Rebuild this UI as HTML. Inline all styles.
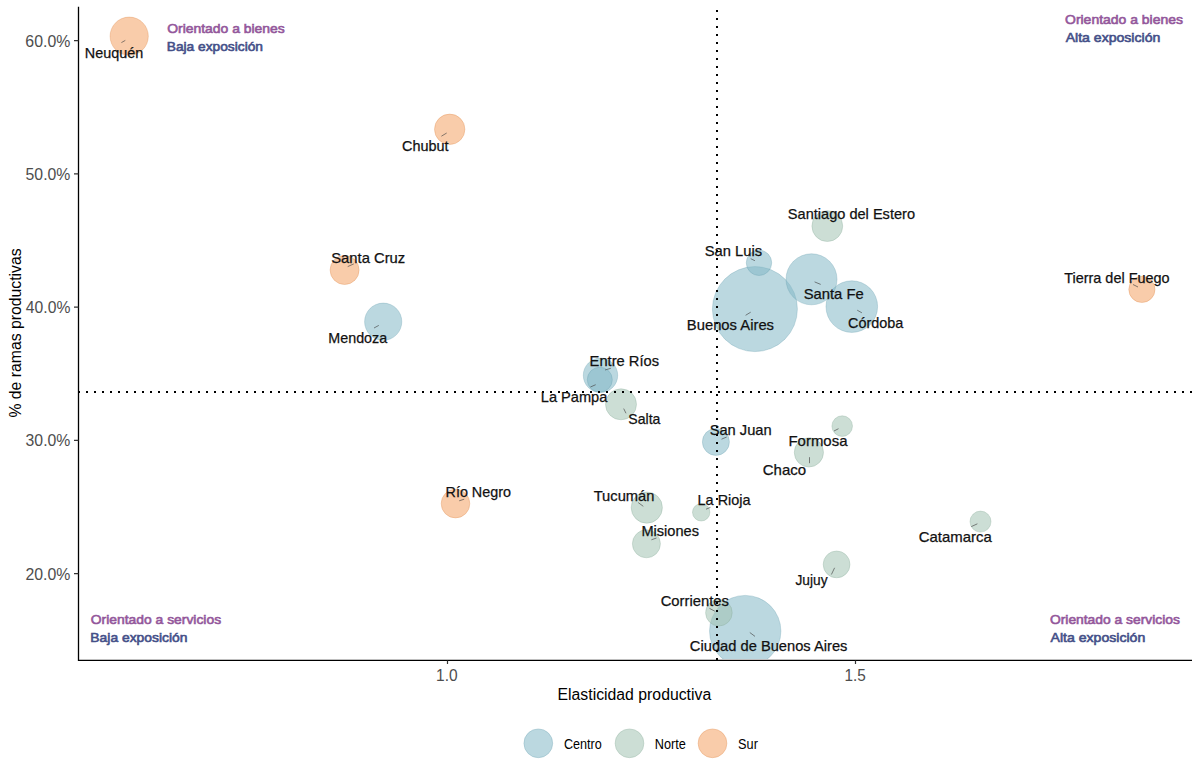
<!DOCTYPE html>
<html><head><meta charset="utf-8"><style>
html,body{margin:0;padding:0;background:#fff;width:1200px;height:777px;overflow:hidden}
svg{display:block}
text{font-family:"Liberation Sans",sans-serif}
</style></head><body>
<svg width="1200" height="777" viewBox="0 0 1200 777">
<defs><clipPath id="panel"><rect x="78.5" y="0" width="1121.5" height="659"/></clipPath></defs>
<rect width="1200" height="777" fill="#fff"/>

<g clip-path="url(#panel)">
<circle cx="754.9" cy="309.1" r="42.5" fill="#83b8c7" fill-opacity="0.55" stroke="#649bad" stroke-width="1" stroke-opacity="0.3"/>
<circle cx="745.2" cy="631.1" r="35.7" fill="#83b8c7" fill-opacity="0.55" stroke="#649bad" stroke-width="1" stroke-opacity="0.3"/>
<circle cx="851.8" cy="306.6" r="25.8" fill="#83b8c7" fill-opacity="0.55" stroke="#649bad" stroke-width="1" stroke-opacity="0.3"/>
<circle cx="811.5" cy="279.3" r="25.5" fill="#83b8c7" fill-opacity="0.55" stroke="#649bad" stroke-width="1" stroke-opacity="0.3"/>
<circle cx="129.2" cy="36.2" r="19.1" fill="#f4a264" fill-opacity="0.55" stroke="#db8040" stroke-width="1" stroke-opacity="0.3"/>
<circle cx="383.2" cy="321.7" r="18.6" fill="#83b8c7" fill-opacity="0.55" stroke="#649bad" stroke-width="1" stroke-opacity="0.3"/>
<circle cx="600.5" cy="375.3" r="17.2" fill="#83b8c7" fill-opacity="0.55" stroke="#649bad" stroke-width="1" stroke-opacity="0.3"/>
<circle cx="646.8" cy="507.6" r="15.6" fill="#a2c3b3" fill-opacity="0.55" stroke="#80a492" stroke-width="1" stroke-opacity="0.3"/>
<circle cx="621" cy="404.3" r="15.5" fill="#a2c3b3" fill-opacity="0.55" stroke="#80a492" stroke-width="1" stroke-opacity="0.3"/>
<circle cx="827.3" cy="226.1" r="15.4" fill="#a2c3b3" fill-opacity="0.55" stroke="#80a492" stroke-width="1" stroke-opacity="0.3"/>
<circle cx="449.7" cy="129.3" r="15.2" fill="#f4a264" fill-opacity="0.55" stroke="#db8040" stroke-width="1" stroke-opacity="0.3"/>
<circle cx="808.9" cy="452.4" r="14.6" fill="#a2c3b3" fill-opacity="0.55" stroke="#80a492" stroke-width="1" stroke-opacity="0.3"/>
<circle cx="344.6" cy="270" r="14.5" fill="#f4a264" fill-opacity="0.55" stroke="#db8040" stroke-width="1" stroke-opacity="0.3"/>
<circle cx="455.5" cy="503.6" r="14.3" fill="#f4a264" fill-opacity="0.55" stroke="#db8040" stroke-width="1" stroke-opacity="0.3"/>
<circle cx="646.4" cy="543.8" r="14" fill="#a2c3b3" fill-opacity="0.55" stroke="#80a492" stroke-width="1" stroke-opacity="0.3"/>
<circle cx="715.9" cy="441.9" r="13.5" fill="#83b8c7" fill-opacity="0.55" stroke="#649bad" stroke-width="1" stroke-opacity="0.3"/>
<circle cx="836.6" cy="564.4" r="13.4" fill="#a2c3b3" fill-opacity="0.55" stroke="#80a492" stroke-width="1" stroke-opacity="0.3"/>
<circle cx="718.9" cy="612.7" r="13.3" fill="#a2c3b3" fill-opacity="0.55" stroke="#80a492" stroke-width="1" stroke-opacity="0.3"/>
<circle cx="1141.9" cy="289.4" r="13.1" fill="#f4a264" fill-opacity="0.55" stroke="#db8040" stroke-width="1" stroke-opacity="0.3"/>
<circle cx="759" cy="262.8" r="12.7" fill="#83b8c7" fill-opacity="0.55" stroke="#649bad" stroke-width="1" stroke-opacity="0.3"/>
<circle cx="599.8" cy="379.7" r="12.5" fill="#83b8c7" fill-opacity="0.55" stroke="#649bad" stroke-width="1" stroke-opacity="0.3"/>
<circle cx="980.5" cy="521.6" r="10.5" fill="#a2c3b3" fill-opacity="0.55" stroke="#80a492" stroke-width="1" stroke-opacity="0.3"/>
<circle cx="842.2" cy="426.1" r="10.3" fill="#a2c3b3" fill-opacity="0.55" stroke="#80a492" stroke-width="1" stroke-opacity="0.3"/>
<circle cx="701.2" cy="512.3" r="8.7" fill="#a2c3b3" fill-opacity="0.55" stroke="#80a492" stroke-width="1" stroke-opacity="0.3"/>
</g>
<path d="M78.0 391h2v2h-2z M86.0 391h2v2h-2z M94.0 391h2v2h-2z M102.0 391h2v2h-2z M110.0 391h2v2h-2z M118.0 391h2v2h-2z M126.0 391h2v2h-2z M134.0 391h2v2h-2z M142.0 391h2v2h-2z M150.0 391h2v2h-2z M158.0 391h2v2h-2z M166.0 391h2v2h-2z M174.0 391h2v2h-2z M182.0 391h2v2h-2z M190.0 391h2v2h-2z M198.0 391h2v2h-2z M206.0 391h2v2h-2z M214.0 391h2v2h-2z M222.0 391h2v2h-2z M230.0 391h2v2h-2z M238.0 391h2v2h-2z M246.0 391h2v2h-2z M254.0 391h2v2h-2z M262.0 391h2v2h-2z M270.0 391h2v2h-2z M278.0 391h2v2h-2z M286.0 391h2v2h-2z M294.0 391h2v2h-2z M302.0 391h2v2h-2z M310.0 391h2v2h-2z M318.0 391h2v2h-2z M326.0 391h2v2h-2z M334.0 391h2v2h-2z M342.0 391h2v2h-2z M350.0 391h2v2h-2z M358.0 391h2v2h-2z M366.0 391h2v2h-2z M374.0 391h2v2h-2z M382.0 391h2v2h-2z M390.0 391h2v2h-2z M398.0 391h2v2h-2z M406.0 391h2v2h-2z M414.0 391h2v2h-2z M422.0 391h2v2h-2z M430.0 391h2v2h-2z M438.0 391h2v2h-2z M446.0 391h2v2h-2z M454.0 391h2v2h-2z M462.0 391h2v2h-2z M470.0 391h2v2h-2z M478.0 391h2v2h-2z M486.0 391h2v2h-2z M494.0 391h2v2h-2z M502.0 391h2v2h-2z M510.0 391h2v2h-2z M518.0 391h2v2h-2z M526.0 391h2v2h-2z M534.0 391h2v2h-2z M542.0 391h2v2h-2z M550.0 391h2v2h-2z M558.0 391h2v2h-2z M566.0 391h2v2h-2z M574.0 391h2v2h-2z M582.0 391h2v2h-2z M590.0 391h2v2h-2z M598.0 391h2v2h-2z M606.0 391h2v2h-2z M614.0 391h2v2h-2z M622.0 391h2v2h-2z M630.0 391h2v2h-2z M638.0 391h2v2h-2z M646.0 391h2v2h-2z M654.0 391h2v2h-2z M662.0 391h2v2h-2z M670.0 391h2v2h-2z M678.0 391h2v2h-2z M686.0 391h2v2h-2z M694.0 391h2v2h-2z M702.0 391h2v2h-2z M710.0 391h2v2h-2z M718.0 391h2v2h-2z M726.0 391h2v2h-2z M734.0 391h2v2h-2z M742.0 391h2v2h-2z M750.0 391h2v2h-2z M758.0 391h2v2h-2z M766.0 391h2v2h-2z M774.0 391h2v2h-2z M782.0 391h2v2h-2z M790.0 391h2v2h-2z M798.0 391h2v2h-2z M806.0 391h2v2h-2z M814.0 391h2v2h-2z M822.0 391h2v2h-2z M830.0 391h2v2h-2z M838.0 391h2v2h-2z M846.0 391h2v2h-2z M854.0 391h2v2h-2z M862.0 391h2v2h-2z M870.0 391h2v2h-2z M878.0 391h2v2h-2z M886.0 391h2v2h-2z M894.0 391h2v2h-2z M902.0 391h2v2h-2z M910.0 391h2v2h-2z M918.0 391h2v2h-2z M926.0 391h2v2h-2z M934.0 391h2v2h-2z M942.0 391h2v2h-2z M950.0 391h2v2h-2z M958.0 391h2v2h-2z M966.0 391h2v2h-2z M974.0 391h2v2h-2z M982.0 391h2v2h-2z M990.0 391h2v2h-2z M998.0 391h2v2h-2z M1006.0 391h2v2h-2z M1014.0 391h2v2h-2z M1022.0 391h2v2h-2z M1030.0 391h2v2h-2z M1038.0 391h2v2h-2z M1046.0 391h2v2h-2z M1054.0 391h2v2h-2z M1062.0 391h2v2h-2z M1070.0 391h2v2h-2z M1078.0 391h2v2h-2z M1086.0 391h2v2h-2z M1094.0 391h2v2h-2z M1102.0 391h2v2h-2z M1110.0 391h2v2h-2z M1118.0 391h2v2h-2z M1126.0 391h2v2h-2z M1134.0 391h2v2h-2z M1142.0 391h2v2h-2z M1150.0 391h2v2h-2z M1158.0 391h2v2h-2z M1166.0 391h2v2h-2z M1174.0 391h2v2h-2z M1182.0 391h2v2h-2z M1190.0 391h2v2h-2z M716 10.0h2v2h-2z M716 18.0h2v2h-2z M716 26.0h2v2h-2z M716 34.0h2v2h-2z M716 42.0h2v2h-2z M716 50.0h2v2h-2z M716 58.0h2v2h-2z M716 66.0h2v2h-2z M716 74.0h2v2h-2z M716 82.0h2v2h-2z M716 90.0h2v2h-2z M716 98.0h2v2h-2z M716 106.0h2v2h-2z M716 114.0h2v2h-2z M716 122.0h2v2h-2z M716 130.0h2v2h-2z M716 138.0h2v2h-2z M716 146.0h2v2h-2z M716 154.0h2v2h-2z M716 162.0h2v2h-2z M716 170.0h2v2h-2z M716 178.0h2v2h-2z M716 186.0h2v2h-2z M716 194.0h2v2h-2z M716 202.0h2v2h-2z M716 210.0h2v2h-2z M716 218.0h2v2h-2z M716 226.0h2v2h-2z M716 234.0h2v2h-2z M716 242.0h2v2h-2z M716 250.0h2v2h-2z M716 258.0h2v2h-2z M716 266.0h2v2h-2z M716 274.0h2v2h-2z M716 282.0h2v2h-2z M716 290.0h2v2h-2z M716 298.0h2v2h-2z M716 306.0h2v2h-2z M716 314.0h2v2h-2z M716 322.0h2v2h-2z M716 330.0h2v2h-2z M716 338.0h2v2h-2z M716 346.0h2v2h-2z M716 354.0h2v2h-2z M716 362.0h2v2h-2z M716 370.0h2v2h-2z M716 378.0h2v2h-2z M716 386.0h2v2h-2z M716 394.0h2v2h-2z M716 402.0h2v2h-2z M716 410.0h2v2h-2z M716 418.0h2v2h-2z M716 426.0h2v2h-2z M716 434.0h2v2h-2z M716 442.0h2v2h-2z M716 450.0h2v2h-2z M716 458.0h2v2h-2z M716 466.0h2v2h-2z M716 474.0h2v2h-2z M716 482.0h2v2h-2z M716 490.0h2v2h-2z M716 498.0h2v2h-2z M716 506.0h2v2h-2z M716 514.0h2v2h-2z M716 522.0h2v2h-2z M716 530.0h2v2h-2z M716 538.0h2v2h-2z M716 546.0h2v2h-2z M716 554.0h2v2h-2z M716 562.0h2v2h-2z M716 570.0h2v2h-2z M716 578.0h2v2h-2z M716 586.0h2v2h-2z M716 594.0h2v2h-2z M716 602.0h2v2h-2z M716 610.0h2v2h-2z M716 618.0h2v2h-2z M716 626.0h2v2h-2z M716 634.0h2v2h-2z M716 642.0h2v2h-2z M716 650.0h2v2h-2z M716 658.0h2v2h-2z" fill="#000"/>
<line x1="121.4" y1="42.6" x2="125.3" y2="40.4" stroke="#444" stroke-width="0.65"/>
<line x1="441.4" y1="136.2" x2="446.7" y2="133" stroke="#444" stroke-width="0.65"/>
<line x1="347.7" y1="266.6" x2="353.8" y2="263.9" stroke="#444" stroke-width="0.65"/>
<line x1="374" y1="328" x2="378.8" y2="325.4" stroke="#444" stroke-width="0.65"/>
<line x1="605" y1="370" x2="610.8" y2="368.3" stroke="#444" stroke-width="0.65"/>
<line x1="590.4" y1="387" x2="595.7" y2="384.7" stroke="#444" stroke-width="0.65"/>
<line x1="623.7" y1="408.6" x2="626" y2="413.3" stroke="#444" stroke-width="0.65"/>
<line x1="750.7" y1="258.7" x2="754.9" y2="260.7" stroke="#444" stroke-width="0.65"/>
<line x1="745.6" y1="315.3" x2="750.7" y2="312.2" stroke="#444" stroke-width="0.65"/>
<line x1="814.6" y1="281.9" x2="820.7" y2="284.4" stroke="#444" stroke-width="0.65"/>
<line x1="857.2" y1="310.2" x2="861.9" y2="312.8" stroke="#444" stroke-width="0.65"/>
<line x1="1133" y1="284.5" x2="1138" y2="287" stroke="#444" stroke-width="0.65"/>
<line x1="721.5" y1="439.2" x2="726.7" y2="437" stroke="#444" stroke-width="0.65"/>
<line x1="834" y1="431" x2="838.5" y2="428.7" stroke="#444" stroke-width="0.65"/>
<line x1="809.5" y1="457.2" x2="809.5" y2="463.2" stroke="#444" stroke-width="0.65"/>
<line x1="459.2" y1="500.8" x2="464.2" y2="499.2" stroke="#444" stroke-width="0.65"/>
<line x1="638.2" y1="502.6" x2="643.3" y2="506.3" stroke="#444" stroke-width="0.65"/>
<line x1="706" y1="509.2" x2="710.4" y2="507.4" stroke="#444" stroke-width="0.65"/>
<line x1="651.4" y1="539.8" x2="656.5" y2="538" stroke="#444" stroke-width="0.65"/>
<line x1="971.3" y1="526.6" x2="977.4" y2="523.8" stroke="#444" stroke-width="0.65"/>
<line x1="831.4" y1="574.5" x2="834.6" y2="567.8" stroke="#444" stroke-width="0.65"/>
<line x1="709.5" y1="608.4" x2="714.8" y2="611.2" stroke="#444" stroke-width="0.65"/>
<line x1="749.8" y1="632.5" x2="755" y2="636.4" stroke="#444" stroke-width="0.65"/>
<text x="84.82" y="57.80" font-size="14.8" stroke="#111" stroke-width="0.25" fill="#111" textLength="58.42" lengthAdjust="spacingAndGlyphs">Neuquén</text>
<text x="402.07" y="150.70" font-size="14.8" stroke="#111" stroke-width="0.25" fill="#111" textLength="46.54" lengthAdjust="spacingAndGlyphs">Chubut</text>
<text x="331.23" y="262.60" font-size="14.8" stroke="#111" stroke-width="0.25" fill="#111" textLength="74.01" lengthAdjust="spacingAndGlyphs">Santa Cruz</text>
<text x="328.33" y="342.60" font-size="14.8" stroke="#111" stroke-width="0.25" fill="#111" textLength="58.87" lengthAdjust="spacingAndGlyphs">Mendoza</text>
<text x="589.59" y="365.80" font-size="14.8" stroke="#111" stroke-width="0.25" fill="#111" textLength="69.44" lengthAdjust="spacingAndGlyphs">Entre Ríos</text>
<text x="540.80" y="401.60" font-size="14.8" stroke="#111" stroke-width="0.25" fill="#111" textLength="66.50" lengthAdjust="spacingAndGlyphs">La Pampa</text>
<text x="628.36" y="424.30" font-size="14.8" stroke="#111" stroke-width="0.25" fill="#111" textLength="32.04" lengthAdjust="spacingAndGlyphs">Salta</text>
<text x="704.73" y="256.00" font-size="14.8" stroke="#111" stroke-width="0.25" fill="#111" textLength="57.40" lengthAdjust="spacingAndGlyphs">San Luis</text>
<text x="686.80" y="329.70" font-size="14.8" stroke="#111" stroke-width="0.25" fill="#111" textLength="87.23" lengthAdjust="spacingAndGlyphs">Buenos Aires</text>
<text x="803.63" y="298.80" font-size="14.8" stroke="#111" stroke-width="0.25" fill="#111" textLength="60.03" lengthAdjust="spacingAndGlyphs">Santa Fe</text>
<text x="847.97" y="327.60" font-size="14.8" stroke="#111" stroke-width="0.25" fill="#111" textLength="55.33" lengthAdjust="spacingAndGlyphs">Córdoba</text>
<text x="787.84" y="218.80" font-size="14.8" stroke="#111" stroke-width="0.25" fill="#111" textLength="127.17" lengthAdjust="spacingAndGlyphs">Santiago del Estero</text>
<text x="1064.18" y="282.50" font-size="14.8" stroke="#111" stroke-width="0.25" fill="#111" textLength="105.43" lengthAdjust="spacingAndGlyphs">Tierra del Fuego</text>
<text x="709.63" y="434.70" font-size="14.8" stroke="#111" stroke-width="0.25" fill="#111" textLength="62.02" lengthAdjust="spacingAndGlyphs">San Juan</text>
<text x="788.47" y="445.70" font-size="14.8" stroke="#111" stroke-width="0.25" fill="#111" textLength="59.03" lengthAdjust="spacingAndGlyphs">Formosa</text>
<text x="762.74" y="474.50" font-size="14.8" stroke="#111" stroke-width="0.25" fill="#111" textLength="43.39" lengthAdjust="spacingAndGlyphs">Chaco</text>
<text x="445.52" y="496.70" font-size="14.8" stroke="#111" stroke-width="0.25" fill="#111" textLength="65.48" lengthAdjust="spacingAndGlyphs">Río Negro</text>
<text x="593.67" y="500.70" font-size="14.8" stroke="#111" stroke-width="0.25" fill="#111" textLength="60.77" lengthAdjust="spacingAndGlyphs">Tucumán</text>
<text x="697.62" y="504.50" font-size="14.8" stroke="#111" stroke-width="0.25" fill="#111" textLength="52.88" lengthAdjust="spacingAndGlyphs">La Rioja</text>
<text x="641.40" y="535.70" font-size="14.8" stroke="#111" stroke-width="0.25" fill="#111" textLength="57.63" lengthAdjust="spacingAndGlyphs">Misiones</text>
<text x="918.74" y="542.00" font-size="14.8" stroke="#111" stroke-width="0.25" fill="#111" textLength="73.06" lengthAdjust="spacingAndGlyphs">Catamarca</text>
<text x="795.49" y="585.10" font-size="14.8" stroke="#111" stroke-width="0.25" fill="#111" textLength="32.04" lengthAdjust="spacingAndGlyphs">Jujuy</text>
<text x="660.65" y="605.90" font-size="14.8" stroke="#111" stroke-width="0.25" fill="#111" textLength="68.29" lengthAdjust="spacingAndGlyphs">Corrientes</text>
<text x="689.86" y="650.90" font-size="14.8" stroke="#111" stroke-width="0.25" fill="#111" textLength="157.57" lengthAdjust="spacingAndGlyphs">Ciudad de Buenos Aires</text>
<path d="M78.5 6.7V660.4H1192" fill="none" stroke="#000" stroke-width="1.3"/>
<path d="M74 573.70H78.5 M74 440.45H78.5 M74 307.20H78.5 M74 173.95H78.5 M74 40.70H78.5 M447.5 660.4V664 M855.5 660.4V664" stroke="#333" stroke-width="1.2"/>
<text x="25.40" y="579.50" font-size="15.6" fill="#4d4d4d" textLength="44.96" lengthAdjust="spacingAndGlyphs">20.0%</text>
<text x="25.60" y="446.25" font-size="15.6" fill="#4d4d4d" textLength="44.76" lengthAdjust="spacingAndGlyphs">30.0%</text>
<text x="25.84" y="313.00" font-size="15.6" fill="#4d4d4d" textLength="44.52" lengthAdjust="spacingAndGlyphs">40.0%</text>
<text x="25.57" y="179.75" font-size="15.6" fill="#4d4d4d" textLength="44.80" lengthAdjust="spacingAndGlyphs">50.0%</text>
<text x="25.39" y="46.50" font-size="15.6" fill="#4d4d4d" textLength="44.97" lengthAdjust="spacingAndGlyphs">60.0%</text>
<text x="436.02" y="680.80" font-size="15.6" fill="#4d4d4d" textLength="21.59" lengthAdjust="spacingAndGlyphs">1.0</text>
<text x="844.43" y="680.80" font-size="15.6" fill="#4d4d4d" textLength="21.31" lengthAdjust="spacingAndGlyphs">1.5</text>
<text x="557.50" y="699.80" font-size="15.8" fill="#000" textLength="153.70" lengthAdjust="spacingAndGlyphs">Elasticidad productiva</text>
<g transform="translate(21 0) rotate(-90)"><text x="-417.56" y="0.00" font-size="15.8" fill="#000" textLength="169.13" lengthAdjust="spacingAndGlyphs">% de ramas productivas</text></g>
<text x="167.24" y="32.70" font-size="13" stroke="#93579b" stroke-width="0.6" fill="#93579b" textLength="117.56" lengthAdjust="spacingAndGlyphs">Orientado a bienes</text>
<text x="166.77" y="50.60" font-size="13" stroke="#444f88" stroke-width="0.6" fill="#444f88" textLength="96.22" lengthAdjust="spacingAndGlyphs">Baja exposición</text>
<text x="1065.04" y="23.90" font-size="13" stroke="#93579b" stroke-width="0.6" fill="#93579b" textLength="117.86" lengthAdjust="spacingAndGlyphs">Orientado a bienes</text>
<text x="1065.67" y="41.80" font-size="13" stroke="#444f88" stroke-width="0.6" fill="#444f88" textLength="94.64" lengthAdjust="spacingAndGlyphs">Alta exposición</text>
<text x="90.84" y="624.00" font-size="13" stroke="#93579b" stroke-width="0.6" fill="#93579b" textLength="130.26" lengthAdjust="spacingAndGlyphs">Orientado a servicios</text>
<text x="90.36" y="641.90" font-size="13" stroke="#444f88" stroke-width="0.6" fill="#444f88" textLength="97.04" lengthAdjust="spacingAndGlyphs">Baja exposición</text>
<text x="1049.94" y="623.80" font-size="13" stroke="#93579b" stroke-width="0.6" fill="#93579b" textLength="129.96" lengthAdjust="spacingAndGlyphs">Orientado a servicios</text>
<text x="1050.57" y="641.90" font-size="13" stroke="#444f88" stroke-width="0.6" fill="#444f88" textLength="94.74" lengthAdjust="spacingAndGlyphs">Alta exposición</text>
<circle cx="538.3" cy="743.3" r="14.4" fill="#83b8c7" fill-opacity="0.55" stroke="#649bad" stroke-width="1" stroke-opacity="0.3"/>
<circle cx="629.5" cy="743.3" r="14.4" fill="#a2c3b3" fill-opacity="0.55" stroke="#80a492" stroke-width="1" stroke-opacity="0.3"/>
<circle cx="712.5" cy="743.3" r="14.4" fill="#f4a264" fill-opacity="0.55" stroke="#db8040" stroke-width="1" stroke-opacity="0.3"/>
<text x="563.96" y="749.00" font-size="13.8" fill="#000" textLength="37.82" lengthAdjust="spacingAndGlyphs">Centro</text>
<text x="654.76" y="748.80" font-size="13.8" fill="#000" textLength="31.11" lengthAdjust="spacingAndGlyphs">Norte</text>
<text x="738.12" y="748.80" font-size="13.8" fill="#000" textLength="19.79" lengthAdjust="spacingAndGlyphs">Sur</text>
</svg></body></html>
